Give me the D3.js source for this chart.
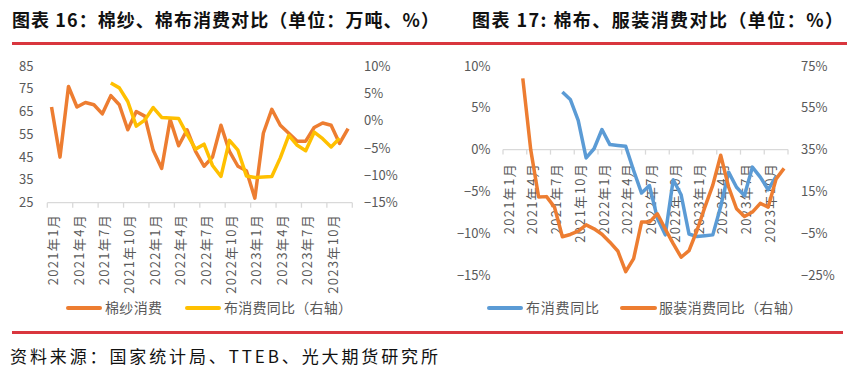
<!DOCTYPE html>
<html><head><meta charset="utf-8">
<script src="https://cdn.jsdelivr.net/npm/d3@7"></script>
<style>
body{margin:0;background:#fff}
svg{display:block}
text{font-family:"Noto Sans CJK SC","Noto Sans",sans-serif}
</style>
</head><body>
<svg id="c" width="864" height="384"></svg>
<script>
// ---- data ----
const categories = [
  "2021年1月","2021年2月","2021年3月","2021年4月","2021年5月","2021年6月",
  "2021年7月","2021年8月","2021年9月","2021年10月","2021年11月","2021年12月",
  "2022年1月","2022年2月","2022年3月","2022年4月","2022年5月","2022年6月",
  "2022年7月","2022年8月","2022年9月","2022年10月","2022年11月","2022年12月",
  "2023年1月","2023年2月","2023年3月","2023年4月","2023年5月","2023年6月",
  "2023年7月","2023年8月","2023年9月","2023年10月","2023年11月","2023年12月"
];
const xTickLabels = ["2021年1月","2021年4月","2021年7月","2021年10月","2022年1月","2022年4月",
  "2022年7月","2022年10月","2023年1月","2023年4月","2023年7月","2023年10月"];
// 棉纱消费 (万吨)
const cottonYarn = [67,45,76,67,69,68,64,72,68,57,65,63,48,40,61.5,50,57,47.5,41,45,59,47.5,41,39,
  27,55.5,66,59,55.5,52,52,58,60,59,51,57.5];
// 布消费同比 (%)
const clothYoY = [null,null,null,null,null,null,null,6.9,6.0,3.5,-1.0,0.1,2.4,0.6,0.5,0.4,-2.5,-5.2,
  -4.3,-8.2,-10.2,-3.6,-5.4,-10.1,-10.4,-10.3,-10.2,-6.8,-2.7,-4.5,-5.5,-2.1,-3.3,-4.8,-3.2,null];
// 服装消费同比 (%)
const apparelYoY = [null,null,69.1,35,12.3,12.5,7.5,-6.7,-5.6,-4,-1,-2.9,-5.5,-9.3,-13.5,-23.4,-17.2,
  0.3,0.3,4.3,-3,-10,-16.5,-13.3,-3.7,7.5,18,32.3,17.1,6.7,3,5.1,9.3,7.5,21,26];

const leftTicksA = [25,35,45,55,65,75,85];
const rightTicksA = [-15,-10,-5,0,5,10];
const leftTicksB = [-15,-10,-5,0,5,10];
const rightTicksB = [-25,-5,15,35,55,75];

const titleA = "图表 16：棉纱、棉布消费对比（单位：万吨、%）";
const titleB = "图表 17: 棉布、服装消费对比（单位：%）";
const source = "资料来源：国家统计局、TTEB、光大期货研究所";

const C_ORANGE = "#ED7D31", C_YELLOW = "#FFC000", C_BLUE = "#5B9BD5";
const TXT = "#595959", AX = "#d9d9d9";

const svg = d3.select("#c");
const pct = v => (v < 0 ? "\u2212" + Math.abs(v) : v) + "%";

// titles & frame lines
svg.append("text").attr("x", 12).attr("y", 27).attr("font-size", 18).attr("font-weight", 700)
  .attr("fill", "#111").attr("textLength", 427).attr("lengthAdjust", "spacing").text(titleA);
svg.append("text").attr("x", 472).attr("y", 27).attr("font-size", 18).attr("font-weight", 700)
  .attr("fill", "#111").attr("textLength", 371).attr("lengthAdjust", "spacing").text(titleB);
svg.append("rect").attr("x", 12).attr("y", 42).attr("width", 835).attr("height", 3).attr("fill", "#d9363e");
svg.append("rect").attr("x", 12).attr("y", 331).attr("width", 831).attr("height", 3).attr("fill", "#d9363e");
svg.append("text").attr("x", 10).attr("y", 363).attr("font-size", 17).attr("fill", "#111")
  .attr("textLength", 428).attr("lengthAdjust", "spacing").text(source);

function lineOf(x, y) {
  return d3.line().defined(d => d.v != null).x(d => x(d.c) + x.bandwidth() / 2).y(d => y(d.v));
}
function series(vals) { return vals.map((v, i) => ({ c: categories[i], v })); }

function drawXAxis(g, x, yAxis, labelTop) {
  const [x0, x1] = x.range();
  g.append("line").attr("x1", x0).attr("x2", x1).attr("y1", yAxis).attr("y2", yAxis)
    .attr("stroke", AX).attr("stroke-width", 1.3);
  for (let i = 0; i <= categories.length; i += 3) {
    const tx = i < categories.length ? x(categories[i]) : x1;
    g.append("line").attr("x1", tx).attr("x2", tx).attr("y1", yAxis).attr("y2", yAxis + 5)
      .attr("stroke", AX).attr("stroke-width", 1.3);
  }
  xTickLabels.forEach(lab => {
    const cx = x(lab) + x.bandwidth() / 2 + 2;
    g.append("text").attr("transform", `translate(${cx},${labelTop}) rotate(-90)`)
      .attr("text-anchor", "end").attr("dy", "0.35em").attr("font-size", 13)
      .attr("letter-spacing", 1.3).attr("fill", TXT).text(lab);
  });
}

function legendItem(g, x1, x2, y, color, label, tx, tw) {
  g.append("line").attr("x1", x1).attr("x2", x2).attr("y1", y).attr("y2", y)
    .attr("stroke", color).attr("stroke-width", 4).attr("stroke-linecap", "round");
  g.append("text").attr("x", tx).attr("y", y).attr("dy", "0.36em").attr("font-size", 14)
    .attr("fill", TXT).attr("textLength", tw).attr("lengthAdjust", "spacing").text(label);
}

// ---- chart A ----
{
  const g = svg.append("g");
  const x = d3.scaleBand().domain(categories).range([47.3, 352.3]);
  const yL = d3.scaleLinear().domain([25, 85]).range([202.7, 66]);
  const yR = d3.scaleLinear().domain([-15, 10]).range([202.7, 66]);
  leftTicksA.forEach(t => g.append("text").attr("x", 33.5).attr("y", yL(t)).attr("dy", "0.35em")
    .attr("text-anchor", "end").attr("font-size", 13).attr("fill", TXT).text(t));
  rightTicksA.forEach(t => g.append("text").attr("x", 364).attr("y", yR(t)).attr("dy", "0.35em")
    .attr("font-size", 13).attr("fill", TXT).text(pct(t)));
  drawXAxis(g, x, yL(25), 214);
  g.append("path").datum(series(cottonYarn)).attr("d", lineOf(x, yL)).attr("fill", "none")
    .attr("stroke", C_ORANGE).attr("stroke-width", 3.5).attr("stroke-linejoin", "round");
  g.append("path").datum(series(clothYoY)).attr("d", lineOf(x, yR)).attr("fill", "none")
    .attr("stroke", C_YELLOW).attr("stroke-width", 3.5).attr("stroke-linejoin", "round");
  legendItem(g, 68, 100, 308, C_ORANGE, "棉纱消费", 105, 57);
  legendItem(g, 187, 219, 308, C_YELLOW, "布消费同比（右轴）", 224, 128);
}

// ---- chart B ----
{
  const g = svg.append("g");
  const x = d3.scaleBand().domain(categories).range([503, 788]);
  const yL = d3.scaleLinear().domain([-15, 10]).range([275, 66]);
  const yR = d3.scaleLinear().domain([-25, 75]).range([275, 66]);
  leftTicksB.forEach(t => g.append("text").attr("x", 490.5).attr("y", yL(t)).attr("dy", "0.35em")
    .attr("text-anchor", "end").attr("font-size", 13).attr("fill", TXT).text(pct(t)));
  rightTicksB.forEach(t => g.append("text").attr("x", 801).attr("y", yR(t)).attr("dy", "0.35em")
    .attr("font-size", 13).attr("fill", TXT).text(pct(t)));
  drawXAxis(g, x, yL(0), 163);
  g.append("path").datum(series(clothYoY)).attr("d", lineOf(x, yL)).attr("fill", "none")
    .attr("stroke", C_BLUE).attr("stroke-width", 3.5).attr("stroke-linejoin", "round");
  g.append("path").datum(series(apparelYoY)).attr("d", lineOf(x, yR)).attr("fill", "none")
    .attr("stroke", C_ORANGE).attr("stroke-width", 3.5).attr("stroke-linejoin", "round");
  legendItem(g, 489, 521, 308, C_BLUE, "布消费同比", 526, 73);
  legendItem(g, 622, 655, 308, C_ORANGE, "服装消费同比（右轴）", 659, 143);
}
</script>
</body></html>
